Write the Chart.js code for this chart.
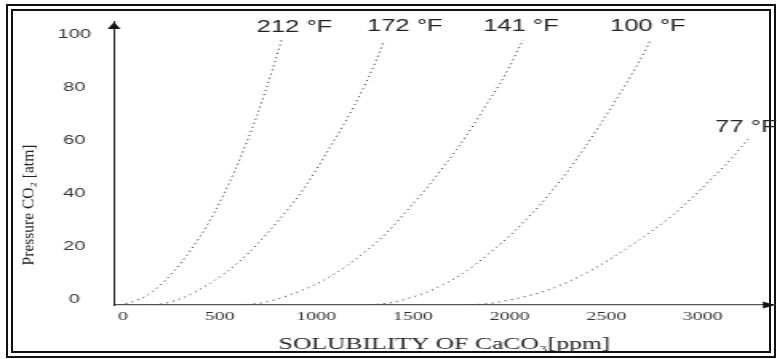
<!DOCTYPE html>
<html>
<head>
<meta charset="utf-8">
<script src="https://cdn.jsdelivr.net/npm/chart.js@4"></script>
<style>
  html, body { margin: 0; padding: 0; background: #fff; }
  body { width: 777px; height: 359px; position: relative; overflow: hidden; }
  #frame { position: absolute; left: 6px; top: 4px; width: 770px; height: 354px; box-sizing: border-box; border: 7px double #111; }
  /* the original picture is stretched sideways, so the chart is drawn narrow and widened */
  #wrap { position: absolute; left: 0; top: 0; width: 486px; height: 359px; transform: scaleX(1.598765); transform-origin: 0 0; }
</style>
</head>
<body>
<div id="frame"></div>
<div id="wrap"><canvas id="myChart"></canvas></div>
<script>
// curve data (solubility in ppm, pressure in atm)
const seriesNames = ['212 °F', '172 °F', '141 °F', '100 °F', '77 °F'];

const solubility212 = [0, 83, 177, 281, 367, 454, 531, 600, 652, 712, 755, 798, 842];
const pressure212 = [0, 1.5, 5.2, 12.5, 20.3, 29.8, 40.2, 50.8, 59.8, 71, 80, 89.6, 100];

const solubility172 = [143, 229, 333, 471, 609, 729, 850, 953, 1031, 1092, 1160, 1221, 1281, 1333, 1371];
const pressure172 = [0, 0.5, 2.8, 8.2, 15.5, 24, 34, 43.5, 52.2, 59.5, 67.7, 75.6, 84.2, 92.6, 99.6];

const solubility141 = [626, 755, 850, 988, 1126, 1264, 1385, 1488, 1592, 1678, 1747, 1833, 1902, 1971, 2023, 2066, 2092];
const pressure141 = [0, 1, 3, 6.8, 12.2, 19.5, 27.2, 35.4, 44, 52, 58.6, 67.7, 75.6, 83.4, 90.1, 96.3, 99.8];

const solubility100 = [1298, 1419, 1505, 1592, 1678, 1764, 1850, 1936, 2023, 2109, 2178, 2247, 2316, 2402, 2488, 2557, 2626, 2678, 2721, 2751];
const pressure100 = [0, 1, 2.7, 4.8, 7.7, 11.2, 15.6, 20.7, 26.2, 32.4, 37.6, 43.6, 49.8, 58.5, 67.8, 75.6, 83.6, 90, 95.6, 99.8];

const solubility77 = [1790, 1919, 2006, 2109, 2230, 2350, 2454, 2557, 2661, 2764, 2868, 2971, 3058, 3126, 3178, 3222, 3256];
const pressure77 = [0, 0.6, 1.7, 3.3, 5.9, 9.6, 13.5, 18, 23, 28.2, 34, 40.8, 47, 51.9, 55.9, 59.6, 62.5];

const xTickValues = [0, 500, 1000, 1500, 2000, 2500, 3000];
const yTickValues = [0, 20, 40, 60, 80, 100];

const xTitle = 'SOLUBILITY OF CaCO₃[ppm]';
const yTitle = 'Pressure CO₂ [atm]';

const STRETCH = 777 / 486;

// label position next to the top end of each curve (canvas px)
const labelShift = [[8, -12], [13, -14], [-1.5, -13], [-1.8, -13], [-1.5, -11]];

const curves = [
    [solubility212, pressure212],
    [solubility172, pressure172],
    [solubility141, pressure141],
    [solubility100, pressure100],
    [solubility77, pressure77]
];

const datasets = curves.map((c, i) => ({
    label: seriesNames[i],
    data: c[0].map((x, j) => ({ x: x, y: c[1][j] })),
    showLine: true,
    borderColor: '#444',
    borderWidth: 1,
    borderDash: [1.2, 3],
    pointRadius: 0,
    fill: false,
    cubicInterpolationMode: 'monotone'
}));

// arrows, curve names and the upright axis title
const decorations = {
    id: 'decorations',
    afterDraw(chart) {
        const { ctx, chartArea: a, scales: { x, y } } = chart;
        ctx.save();
        ctx.fillStyle = '#111';
        ctx.beginPath();
        ctx.moveTo(a.left, a.top);
        ctx.lineTo(a.left - 4, a.top + 7);
        ctx.lineTo(a.left + 4, a.top + 7);
        ctx.closePath();
        ctx.fill();

        ctx.beginPath();
        ctx.moveTo(a.right, a.bottom);
        ctx.lineTo(a.right - 7.5, a.bottom - 3.5);
        ctx.lineTo(a.right - 7.5, a.bottom + 3.5);
        ctx.closePath();
        ctx.fill();

        ctx.font = '16px "Liberation Sans"';
        ctx.fillStyle = '#222';
        ctx.textAlign = 'center';
        ctx.textBaseline = 'middle';
        chart.data.datasets.forEach((ds, i) => {
            const last = ds.data[ds.data.length - 1];
            const [dx, dy] = labelShift[i];
            ctx.fillText(ds.label, x.getPixelForValue(last.x) + dx, y.getPixelForValue(last.y) + dy);
        });

        // this title is narrow in the picture, so undo the stretch for it
        ctx.translate(30 / STRETCH, 205);
        ctx.scale(1 / STRETCH, 1);
        ctx.rotate(-Math.PI / 2);
        ctx.font = '15.5px "Liberation Serif"';
        ctx.fillStyle = '#222';
        ctx.fillText(yTitle, 0, 0);
        ctx.restore();
    }
};

const ctx = document.getElementById('myChart').getContext('2d');
const chart = new Chart(ctx, {
    type: 'scatter',
    data: { datasets: datasets },
    options: {
        responsive: true,
        maintainAspectRatio: false,
        animation: false,
        layout: { padding: { top: 15, right: 1.3, bottom: 0, left: 0 } },
        plugins: {
            legend: { display: false },
            tooltip: { enabled: false }
        },
        scales: {
            x: {
                type: 'linear',
                min: -26,
                max: 3394,
                grid: { display: false, drawTicks: false },
                border: { display: true, color: '#555', width: 1.3 },
                afterBuildTicks: s => { s.ticks = xTickValues.map(v => ({ value: v })); },
                afterFit: s => { s.height = 54; },
                ticks: {
                    color: '#333',
                    padding: 4,
                    labelOffset: 2.5,
                    maxRotation: 0,
                    callback: v => String(v),
                    font: { family: '"Liberation Serif"', size: 12.5 }
                },
                title: {
                    display: true,
                    text: xTitle,
                    color: '#222',
                    padding: { top: 0, bottom: 4.4 },
                    font: { family: '"Liberation Serif"', size: 16 }
                }
            },
            y: {
                type: 'linear',
                min: 0,
                max: 106.6,
                grid: { display: false, drawTicks: false },
                border: { display: true, color: '#222', width: 1 },
                afterBuildTicks: s => { s.ticks = yTickValues.map(v => ({ value: v })); },
                afterFit: s => { s.width = 114 / STRETCH; },
                ticks: {
                    color: '#333',
                    padding: 14.4,
                    crossAlign: 'center',
                    labelOffset: -5,
                    callback: v => String(v),
                    font: { family: '"Liberation Sans"', size: 12.5 }
                },
                title: { display: false }
            }
        }
    },
    plugins: [decorations]
});
</script>
</body>
</html>
